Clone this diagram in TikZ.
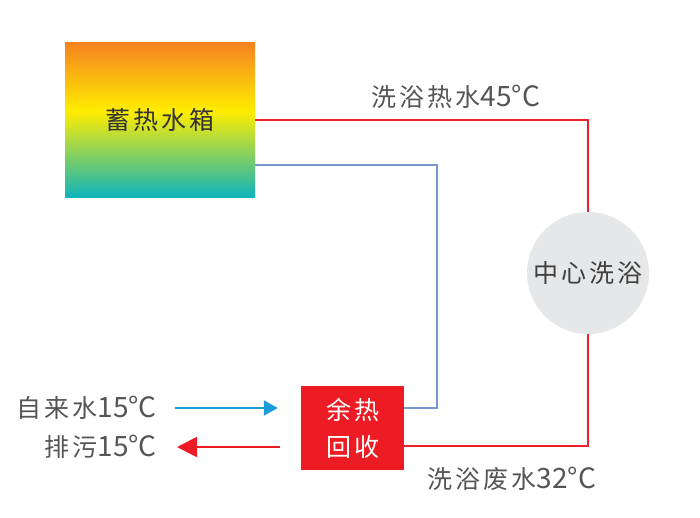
\documentclass[tikz,border=0pt]{standalone}
\usepackage{fontspec}
\usepackage{xcolor}
\usetikzlibrary{arrows.meta}
\setmainfont{Noto Sans CJK SC}
\newfontfamily\cjk[LetterSpace=12]{Noto Sans CJK SC}
\definecolor{hotline}{RGB}{236,32,40}
\definecolor{coldline}{RGB}{120,150,210}
\definecolor{tapblue}{RGB}{28,155,215}
\definecolor{recred}{RGB}{237,28,36}
\definecolor{bathgray}{RGB}{230,231,232}
\definecolor{txtgray}{RGB}{85,85,85}
\definecolor{tanktop}{RGB}{245,130,32}
\definecolor{tankmid}{RGB}{255,237,0}
\definecolor{tankbot}{RGB}{15,180,188}
\pgfdeclareverticalshading{tankshade}{100bp}{color(0bp)=(tankbot); color(25bp)=(tankbot);
  color(52.7bp)=(tankmid); color(75bp)=(tanktop); color(100bp)=(tanktop)}
\newcommand{\cjksize}{\fontsize{28}{37}\selectfont}
\newcommand{\hz}[1]{{\cjk\fontsize{25}{37}\selectfont #1}}
\tikzset{
  tankbox/.style={minimum width=190pt, minimum height=155pt, inner sep=0pt,
    shading=tankshade, text=black!80, font=\cjksize},
  bathcirc/.style={circle, minimum size=122pt, inner sep=0pt, fill=bathgray,
    text=black!75, font=\cjksize},
  recbox/.style={minimum width=103pt, minimum height=84pt, inner sep=0pt,
    fill=recred, text=white, align=center, font=\cjksize},
  lbl/.style={inner sep=0pt, text=txtgray, font=\cjksize},
  hotpipe/.style={draw=hotline, line width=2pt},
  coldpipe/.style={draw=coldline, line width=2pt},
  tapflow/.style={draw=tapblue, line width=2pt, -{Triangle[length=14pt,width=15pt]}},
  drainflow/.style={draw=recred, line width=2pt, -{Triangle[length=20pt,width=20pt]}}
}
\begin{document}
\begin{tikzpicture}[x=1pt,y=-1pt]
\useasboundingbox (0,0) rectangle (700,517);
% units and boxes
\node[tankbox] (tank) at (160,119.5) {\hz{蓄热水箱}};
\node[bathcirc] (bath) at (588,273) {\hz{中心洗浴}};
\node[recbox] (rec) at (352.5,428) {\hz{余热}\\\hz{回收}};
% labels
\node[lbl] (hotlbl) at (456,97) {\hz{洗浴热水}45°C};
\node[lbl] (wastelbl) at (512,479) {\hz{洗浴废水}32°C};
\node[lbl,anchor=east] (tap) at (157,408) {\hz{自来水}15°C};
\node[lbl,anchor=east] (drain) at (157,447) {\hz{排污}15°C};
% pipes
\draw[hotpipe] (tank.east) -| (bath.north);
\draw[hotpipe] (bath.south) |- ([yshift=-18pt]rec.east);
\draw[coldpipe] ([yshift=-45pt]tank.east) -| ([xshift=33pt,yshift=20pt]rec.east) -- ([yshift=20pt]rec.east);
\draw[tapflow, shorten >=23pt] ([xshift=18pt]tap.east) -- (tap.east -| rec.west);
\draw[drainflow, shorten <=21pt] (drain.east -| rec.west) -- ([xshift=20pt]drain.east);
\end{tikzpicture}
\end{document}
